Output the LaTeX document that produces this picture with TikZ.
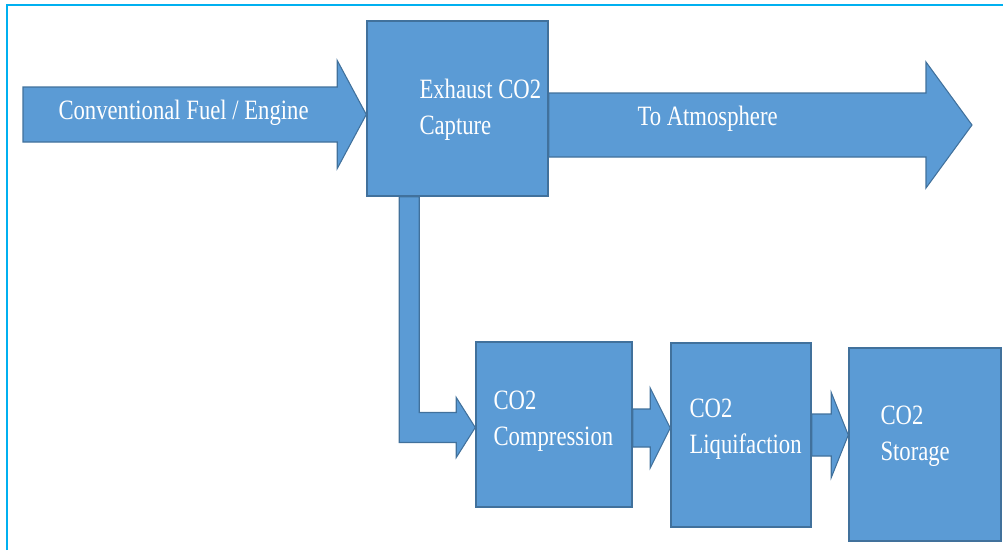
\documentclass[tikz,border=0pt]{standalone}
\usepackage{fontspec}
\newfontfamily\labelfont[FakeStretch=0.81]{Liberation Serif}
\usetikzlibrary{calc,fit}

\definecolor{boxblue}{RGB}{91,155,213}
\definecolor{boxedge}{RGB}{65,113,156}
\definecolor{framecyan}{RGB}{0,176,240}

\tikzset{every picture/.style={line width=0.75pt}}
\tikzset{
  stage/.style={draw=boxedge, fill=boxblue, line width=1.1pt, inner sep=0pt},
  flow/.style={draw=boxedge, fill=boxblue, line width=0.8pt, line join=miter},
  lbl/.style={inner sep=0pt, anchor=base west, align=left, text=white,
    font=\labelfont\fontsize{21}{26.5}\selectfont}
}

% block arrow: tail, tip, half shaft, half head, head length
\newcommand{\blockarrow}[5]{%
  \filldraw[flow] ($(#1 |- #2)+(0,-#3)$) -- ($(#2)+(-#5,-#3)$) -- ($(#2)+(-#5,-#4)$) -- (#2)
    -- ($(#2)+(-#5,#4)$) -- ($(#2)+(-#5,#3)$) -- ($(#1 |- #2)+(0,#3)$) -- cycle;}

\begin{document}
\begin{tikzpicture}[x=0.75pt,y=0.75pt,yscale=-1,xscale=1]
\useasboundingbox (0,0) rectangle (1003,550);

%Frame
\draw [color=framecyan, line width=1.9pt] (7,550) -- (7,5) -- (1003,5) ;

%Shape: Rectangle [capture]
\node [stage, fit={(367,21) (548,196)}] (cap) {};
%Shape: Rectangle [compression]
\node [stage, fit={(476,342) (632,507)}] (comp) {};
%Shape: Rectangle [liquifaction]
\node [stage, fit={(671,343) (811,527)}] (liq) {};
%Shape: Rectangle [storage]
\node [stage, fit={(849,348) (1001,541)}] (stor) {};

%Right Arrow [fuel]
\coordinate (fueltail) at (23,114.5);
\coordinate (fueltip) at (cap.west |- fueltail);
\blockarrow{fueltail}{fueltip}{27.5}{54}{29}
%Right Arrow [atmosphere]
\coordinate (atmotip) at (972,125);
\blockarrow{cap.east}{atmotip}{32}{63}{46}
%Right Arrow [compression to liquifaction]
\coordinate (c2l) at ($(liq.west)+(0,-7)$);
\blockarrow{comp.east}{c2l}{19}{40}{20}
%Right Arrow [liquifaction to storage]
\coordinate (l2s) at ($(stor.west)+(0,-9.5)$);
\blockarrow{liq.east}{l2s}{21}{42.5}{17}
%Bent Arrow [capture to compression]
\coordinate (c2c) at ($(comp.west)+(0,3)$);
\filldraw [flow] ($(cap.south west)+(33,0)$) -- ($(cap.south west)+(53,0)$) -- ($(c2c)+(-56,-15)$)
  -- ($(c2c)+(-19,-15)$) -- ($(c2c)+(-19,-30)$) -- (c2c) -- ($(c2c)+(-19,30)$)
  -- ($(c2c)+(-19,15)$) -- ($(c2c)+(-76,15)$) -- cycle ;

% Text Node (anchor is the last line's baseline)
\node [lbl] (fueltxt) at (58,119) {Conventional Fuel / Engine};
% Text Node
\node [lbl] (captxt) at (419,134) {Exhaust CO2\\Capture};
% Text Node
\node [lbl] (atmotxt) at (637,125) {To Atmosphere};
% Text Node
\node [lbl] (comptxt) at (493,445) {CO2\\Compression};
% Text Node
\node [lbl] (liqtxt) at (689,453) {CO2\\Liquifaction};
% Text Node
\node [lbl] (stortxt) at (880,460) {CO2\\Storage};

\end{tikzpicture}
\end{document}
